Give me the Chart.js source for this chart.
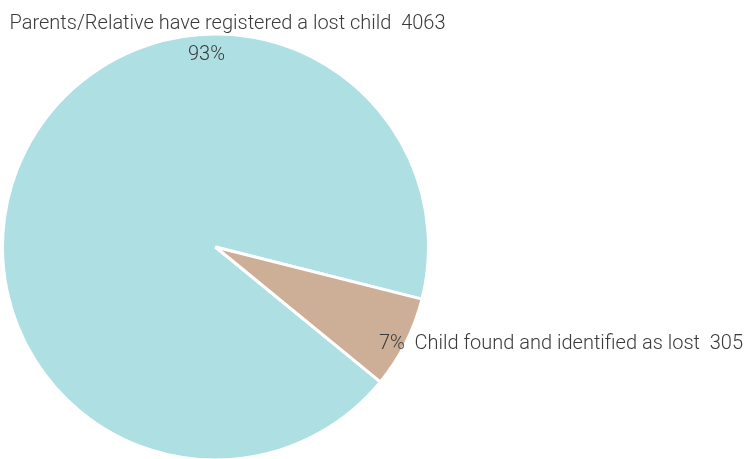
<!DOCTYPE html>
<html>
<head>
<meta charset="utf-8">
<script src="https://cdn.jsdelivr.net/npm/chart.js@4/dist/chart.umd.min.js"></script>
<style>
  html, body { margin: 0; padding: 0; background: #fff; overflow: hidden; }
  #wrap { position: relative; width: 747px; height: 459px; overflow: hidden; }
</style>
</head>
<body>
<div id="wrap"><canvas id="c" width="747" height="463"></canvas></div>
<script>
const categories = ["Parents/Relative have registered a lost child", "Child found and identified as lost"];
const values = [4063, 305];
const colors = ["#addfe3", "#cdae96"];

const total = values.reduce((a, b) => a + b, 0);
const pct = values.map(v => Math.round(v / total * 100) + "%");

const FONT = "300 20px Roboto, 'Liberation Sans', sans-serif";
const TEXT = "#3a3a3a";

const labelPlugin = {
  id: "pieLabels",
  afterDatasetsDraw(chart) {
    const ctx = chart.ctx;
    const arcs = chart.getDatasetMeta(0).data;
    ctx.save();
    ctx.font = FONT;
    ctx.fillStyle = TEXT;
    ctx.textBaseline = "alphabetic";
    // Big slice: name above the pie, percent just inside the top edge
    const a0 = arcs[0];
    const cx = a0.x, cy = a0.y, r = a0.outerRadius;
    ctx.textAlign = "left";
    ctx.fillText(categories[0] + "  " + values[0], cx - r + 7, cy - r - 5);
    ctx.textAlign = "center";
    ctx.fillText(pct[0], cx - 9, cy - r + 26);
    // Small slice: percent inside its outer edge, name outside
    const a1 = arcs[1];
    const mid = (a1.startAngle + a1.endAngle) / 2;
    const ax = a1.x + Math.cos(mid) * a1.outerRadius * 0.995;
    const ay = a1.y + Math.sin(mid) * a1.outerRadius * 0.995;
    ctx.textAlign = "right";
    ctx.fillText(pct[1], ax, ay + 7);
    ctx.textAlign = "left";
    ctx.fillText("  " + categories[1] + "  " + values[1], ax, ay + 7);
    ctx.restore();
  }
};

new Chart(document.getElementById("c"), {
  type: "pie",
  data: {
    labels: categories,
    datasets: [{
      data: values,
      backgroundColor: colors,
      borderColor: "#ffffff",
      borderWidth: 3,
      hoverOffset: 0
    }]
  },
  options: {
    responsive: false,
    animation: false,
    rotation: 129.3,
    layout: { padding: { left: 1, top: 32, right: 317, bottom: 1 } },
    plugins: { legend: { display: false }, tooltip: { enabled: false } }
  },
  plugins: [labelPlugin]
});
</script>
</body>
</html>
